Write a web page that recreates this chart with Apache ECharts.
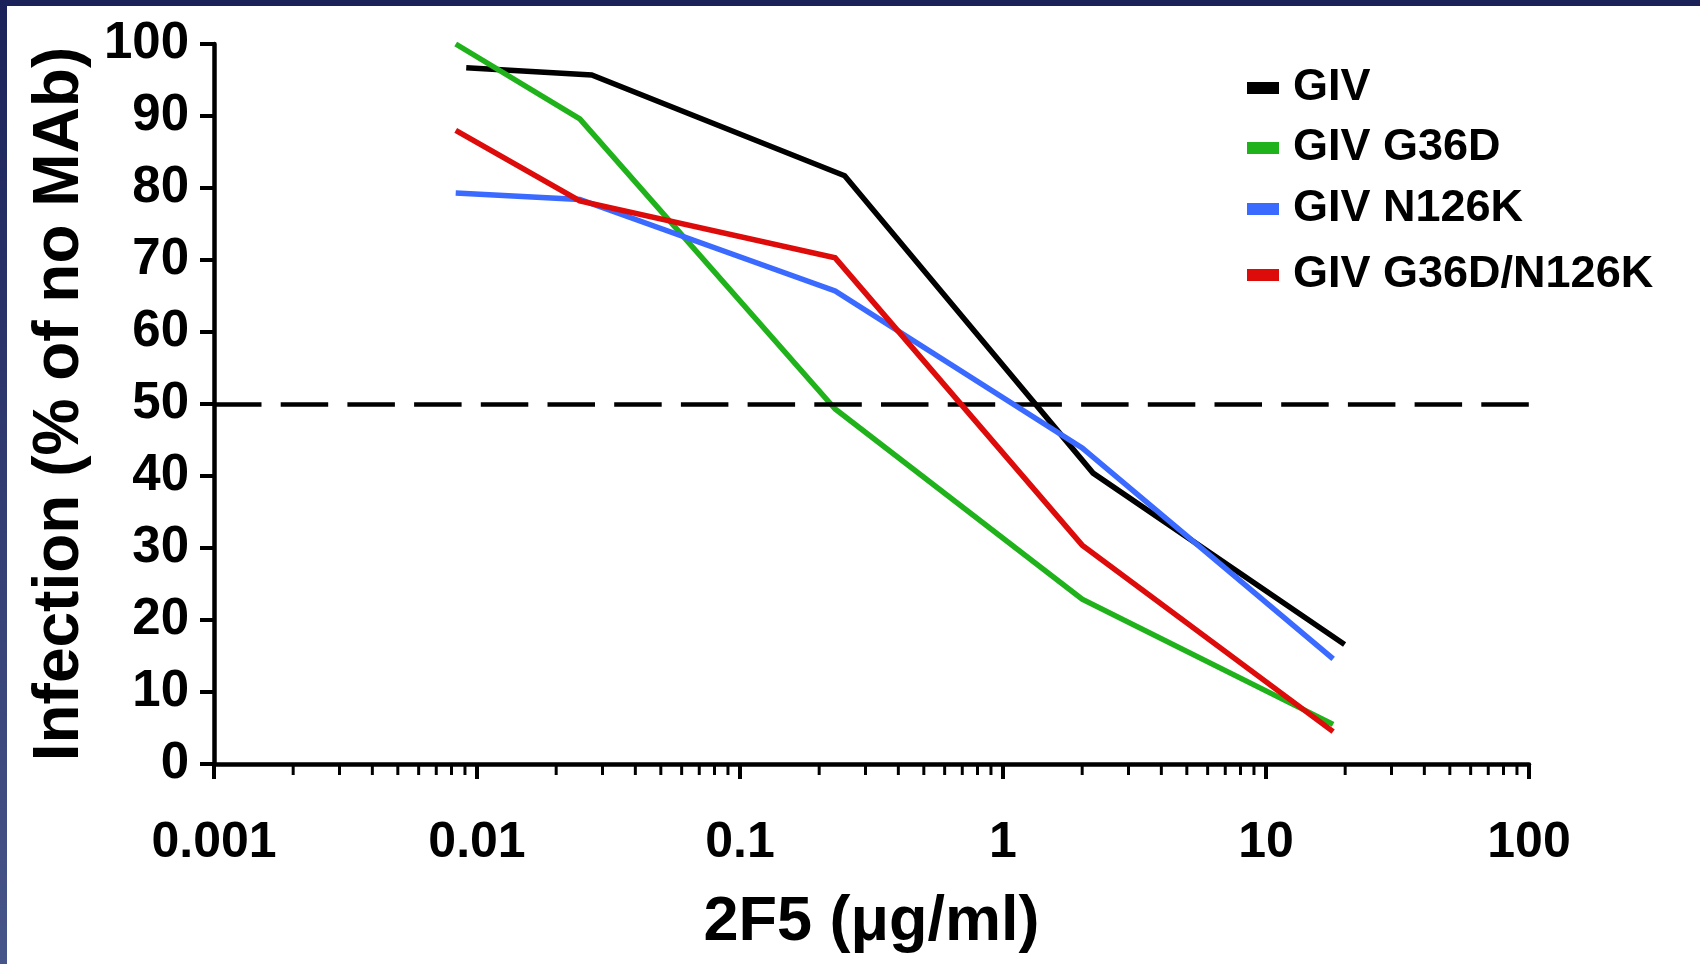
<!DOCTYPE html>
<html>
<head>
<meta charset="utf-8">
<title>2F5 neutralization</title>
<script src="https://cdn.jsdelivr.net/npm/echarts@6/dist/echarts.min.js"></script>
<style>
  html, body { margin: 0; padding: 0; background: #ffffff; }
  #chart { width: 1700px; height: 964px; }
</style>
</head>
<body>
<div id="chart"></div>
<script>
// ---- data ----
const SERIES_NAMES = ['GIV', 'GIV G36D', 'GIV N126K', 'GIV G36D/N126K'];

// 2F5 concentrations (µg/ml)
const DOSE_GIV = [0.0091, 0.0273, 0.25, 2.2, 19.9];
const DOSE_MUTANTS = [0.0083, 0.0246, 0.23, 2.0, 18];

// infection, % of no-MAb control
const INF_GIV = [96.7, 95.7, 81.7, 40.4, 16.6];
const INF_G36D = [100, 89.6, 49.3, 22.9, 5.5];
const INF_N126K = [79.3, 78.4, 65.7, 43.9, 14.6];
const INF_G36D_N126K = [88.0, 78.2, 70.3, 30.4, 4.5];

const X_TICK_LABELS = ['0.001', '0.01', '0.1', '1', '10', '100'];
const HALF_LEVEL = 50;

// ---- styling ----
const FONT = '"Liberation Sans", Arial, Helvetica, sans-serif';
const COLORS = ['#000000', '#20b21a', '#3a6aff', '#de0b0b'];
const LEGEND_ROW_CENTERS = [88, 148, 209, 275];

const doses = [DOSE_GIV, DOSE_MUTANTS, DOSE_MUTANTS, DOSE_MUTANTS];
const values = [INF_GIV, INF_G36D, INF_N126K, INF_G36D_N126K];

const X_MIN = 0.001, X_MAX = 100;

// minor tick positions 2..9 within each decade of the log axis
const minorTicks = [];
for (let d = Math.log10(X_MIN); d < Math.log10(X_MAX); d++) {
  for (let k = 2; k <= 9; k++) minorTicks.push([k * Math.pow(10, d), 0]);
}

const lineSeries = SERIES_NAMES.map((name, i) => ({
  name: name,
  type: 'line',
  symbol: 'none',
  data: doses[i].map((x, j) => [x, values[i][j]]),
  lineStyle: { color: COLORS[i], width: 5.5, cap: 'butt', join: 'miter' },
  itemStyle: { color: COLORS[i] },
  z: 3 + i,
  animation: false
}));

// dashed 50% reference line
lineSeries[0].markLine = {
  silent: true,
  symbol: 'none',
  label: { show: false },
  lineStyle: { color: '#000', width: 4.5, type: [47.5, 19.2] },
  data: [{ yAxis: HALF_LEVEL }],
  animation: false
};

const legends = SERIES_NAMES.map((name, i) => ({
  data: [name],
  left: 1247,
  top: LEGEND_ROW_CENTERS[i] - 25,
  padding: 0,
  icon: 'rect',
  itemWidth: 32,
  itemHeight: 12,
  selectedMode: false,
  textStyle: {
    color: '#000', fontSize: 45, fontWeight: 'bold', fontFamily: FONT,
    lineHeight: 50, padding: [0, 0, 0, 9]
  }
}));

const option = {
  backgroundColor: '#ffffff',
  animation: false,
  grid: { left: 214, right: 171, top: 44, bottom: 200, containLabel: false },
  legend: legends,
  graphic: [
    { type: 'rect', left: 0, top: 0, z: 100,
      shape: { width: 1700, height: 6 }, style: { fill: '#1b2259' } },
    { type: 'rect', left: 0, top: 0, z: 100,
      shape: { width: 7, height: 964 },
      style: { fill: new echarts.graphic.LinearGradient(0, 0, 0, 1, [
        { offset: 0, color: '#1b2259' }, { offset: 1, color: '#46558a' }
      ]) } }
  ],
  xAxis: {
    type: 'log',
    logBase: 10,
    min: X_MIN,
    max: X_MAX,
    name: '2F5 (\u03bcg/ml)',
    nameLocation: 'middle',
    nameGap: 127,
    nameTextStyle: { color: '#000', fontSize: 63, fontWeight: 'bold', fontFamily: FONT },
    axisLine: { show: true, lineStyle: { color: '#000', width: 4.5 } },
    axisTick: { show: true, inside: false, length: 15, lineStyle: { color: '#000', width: 4 } },
    minorTick: { show: false },
    splitLine: { show: false },
    axisLabel: {
      color: '#000', fontSize: 50, fontWeight: 'bold', fontFamily: FONT, margin: 54,
      showMinLabel: true, showMaxLabel: true,
      formatter: v => X_TICK_LABELS[Math.round(Math.log10(v) - Math.log10(X_MIN))]
    }
  },
  yAxis: {
    type: 'value',
    min: 0,
    max: 100,
    interval: 10,
    name: 'Infection (% of no MAb)',
    nameLocation: 'middle',
    nameGap: 122,
    nameTextStyle: { color: '#000', fontSize: 64, fontWeight: 'bold', fontFamily: FONT },
    axisLine: { show: true, lineStyle: { color: '#000', width: 4.5 } },
    axisTick: { show: true, inside: false, length: 14, lineStyle: { color: '#000', width: 4 } },
    splitLine: { show: false },
    axisLabel: { color: '#000', fontSize: 51, fontWeight: 'bold', fontFamily: FONT, margin: 25 }
  },
  series: lineSeries.concat([{
    name: 'minor ticks',
    type: 'custom',
    coordinateSystem: 'cartesian2d',
    silent: true,
    clip: false,
    z: 2,
    data: minorTicks,
    renderItem: function (params, api) {
      const p = api.coord([api.value(0), 0]);
      return {
        type: 'line',
        shape: { x1: p[0], y1: p[1], x2: p[0], y2: p[1] + 11 },
        style: { stroke: '#000', lineWidth: 3 }
      };
    }
  }])
};

const chart = echarts.init(document.getElementById('chart'), null, { renderer: 'canvas' });
chart.setOption(option);
</script>
</body>
</html>
